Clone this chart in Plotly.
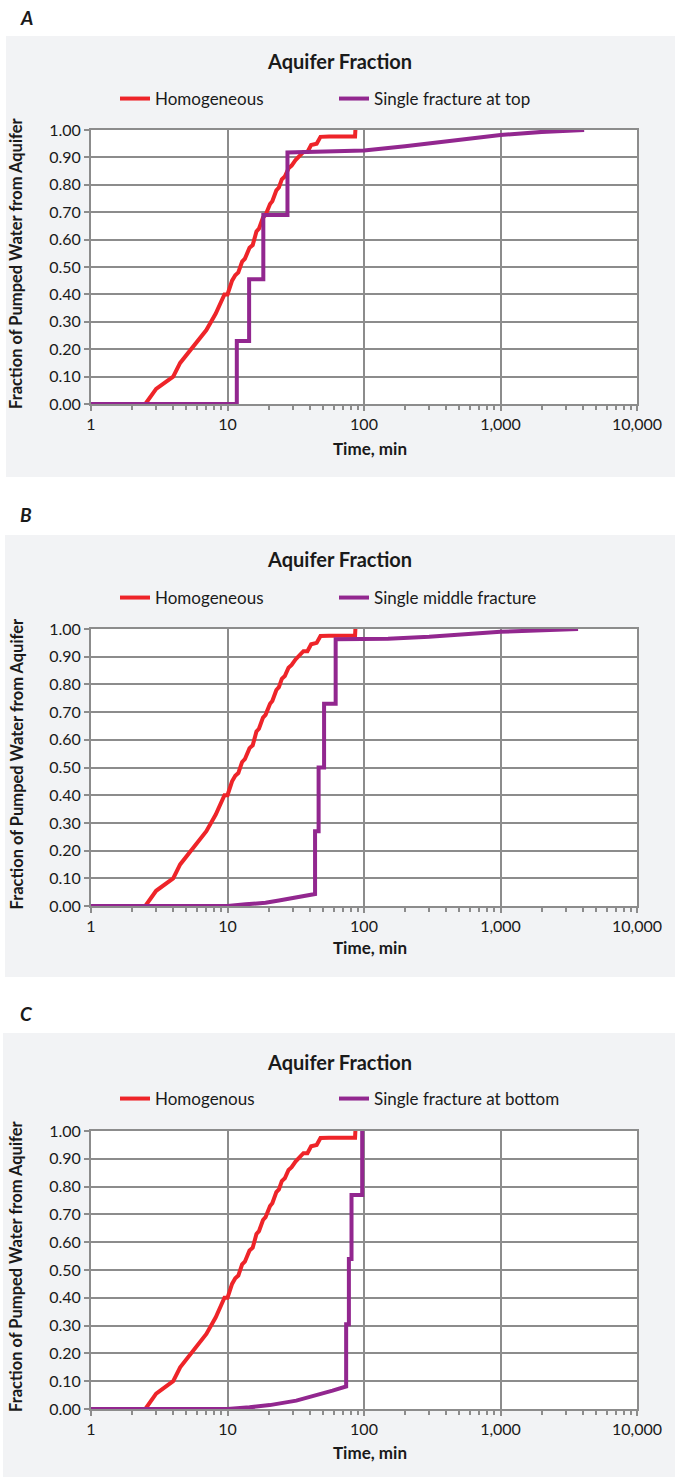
import plotly.graph_objects as go

# ---------------- data ----------------
time_homog = [1, 2.5, 3.0, 4.0, 4.5, 5.5, 7.0, 8.2, 9.2, 9.5, 10.0, 10.8, 11.4, 12.0, 12.8, 13.4,
              14.5, 15.3, 16.3, 17.0, 18.2, 19.0, 20.5, 21.3, 22.8, 23.8, 25.0, 26.3, 28.0, 29.5,
              31.5, 33.0, 36.0, 38.5, 41.0, 45.0, 48.0, 55.5, 86.0, 86.5]
frac_homog = [0, 0, 0.055, 0.10, 0.15, 0.205, 0.27, 0.33, 0.39, 0.40, 0.40, 0.45, 0.47, 0.48, 0.52, 0.53,
              0.57, 0.58, 0.63, 0.64, 0.68, 0.69, 0.73, 0.74, 0.78, 0.79, 0.82, 0.83, 0.86, 0.87,
              0.89, 0.90, 0.92, 0.92, 0.945, 0.95, 0.975, 0.976, 0.976, 1.0]

time_top = [1, 11.7, 11.7, 14.4, 14.4, 18.3, 18.3, 27.5, 27.5, 50, 100, 200, 400, 700, 1000, 2000, 4100]
frac_top = [0, 0, 0.23, 0.23, 0.455, 0.455, 0.69, 0.69, 0.918, 0.921, 0.925, 0.941, 0.958, 0.972, 0.982, 0.993, 1.0]

time_middle = [1, 10, 13.6, 19, 23.8, 31.6, 39.5, 43.8, 43.8, 46.5, 46.5, 51, 51, 62, 62, 100, 150, 300, 1000, 3700]
frac_middle = [0, 0, 0.006, 0.012, 0.02, 0.03, 0.04, 0.043, 0.27, 0.27, 0.50, 0.50, 0.73, 0.73, 0.963, 0.963,
               0.965, 0.972, 0.99, 1.0]

time_bottom = [1, 10, 14.5, 20.4, 31.9, 44.4, 58.8, 74, 74, 77.5, 77.5, 81, 81, 97, 97]
frac_bottom = [0, 0, 0.006, 0.014, 0.03, 0.048, 0.066, 0.081, 0.305, 0.305, 0.54, 0.54, 0.77, 0.77, 1.0]

panel_labels = ["A", "B", "C"]
homog_names = ["Homogeneous", "Homogeneous", "Homogenous"]
fracture_names = ["Single fracture at top", "Single middle fracture", "Single fracture at bottom"]
fracture_times = [time_top, time_middle, time_bottom]
fracture_fracs = [frac_top, frac_middle, frac_bottom]

chart_title = "Aquifer Fraction"
x_title = "Time, min"
y_title = "Fraction of Pumped Water from Aquifer"
x_tick_vals = [1, 10, 100, 1000, 10000]
x_tick_text = ["1", "10", "100", "1,000", "10,000"]
y_tick_vals = [0, 0.1, 0.2, 0.3, 0.4, 0.5, 0.6, 0.7, 0.8, 0.9, 1.0]
x_minor_vals = [m * d for d in (1, 10, 100, 1000) for m in range(2, 10)]

# ---------------- style / layout ----------------
W, H = 675, 1477
RED = "#EE2429"
PURPLE = "#92278F"
GRID = "#8C8C8C"
PANEL_BG = "#F2F3F5"
TXT = "#1A1A1A"
FONT = "Lato, 'Open Sans', sans-serif"

# pixel geometry of each panel
plot_left, plot_right = 91, 637
plot_tops = [130, 629, 1131]
plot_bottoms = [404, 906, 1409]
panel_box = [(6, 36, 675, 477), (5, 535, 675, 977), (3, 1033, 675, 1477)]
label_y = [18, 514, 1013]
title_y = [61, 559, 1062]
legend_y = [99, 598, 1099]
xtitle_y = [448, 947, 1452]


def px(x):
    return x / W


def py(y):
    return 1 - y / H


fig = go.Figure()
shapes = []
annotations = []

for i in range(3):
    sfx = "" if i == 0 else str(i + 1)
    xa, ya = "x" + sfx, "y" + sfx
    leg = "legend" + sfx

    fig.add_trace(go.Scatter(x=time_homog, y=frac_homog, mode="lines", name=homog_names[i],
                             line=dict(color=RED, width=4), xaxis=xa, yaxis=ya, legend=leg,
                             legendwidth=174))
    fig.add_trace(go.Scatter(x=fracture_times[i], y=fracture_fracs[i], mode="lines", name=fracture_names[i],
                             line=dict(color=PURPLE, width=4), xaxis=xa, yaxis=ya, legend=leg,
                             legendwidth=210))

    fig.layout["xaxis" + sfx] = dict(
        type="log", range=[0, 4], domain=[px(plot_left), px(plot_right)], anchor=ya,
        tickvals=x_tick_vals, ticktext=x_tick_text,
        showgrid=True, gridcolor=GRID, gridwidth=2,
        showline=True, linecolor=GRID, linewidth=2, mirror=True,
        ticks="outside", ticklen=5, tickwidth=2, tickcolor=GRID,
        minor=dict(tickvals=x_minor_vals, ticks="outside", ticklen=4, tickwidth=1.5,
                   tickcolor=GRID, showgrid=False),
        tickfont=dict(family=FONT, size=16, color=TXT), fixedrange=True, automargin=False,
    )
    fig.layout["yaxis" + sfx] = dict(
        range=[0, 1], domain=[py(plot_bottoms[i]), py(plot_tops[i])], anchor=xa,
        tickvals=y_tick_vals, tickformat=".2f",
        showgrid=True, gridcolor=GRID, gridwidth=2, zeroline=False,
        showline=True, linecolor=GRID, linewidth=2, mirror=True,
        ticks="outside", ticklen=5, tickwidth=2, tickcolor=GRID,
        tickfont=dict(family=FONT, size=16, color=TXT), fixedrange=True, automargin=False,
    )
    fig.layout[leg] = dict(
        orientation="h", x=px(115), xanchor="left", y=py(legend_y[i]), yanchor="middle",
        itemwidth=30, bgcolor="rgba(0,0,0,0)", font=dict(family=FONT, size=17, color=TXT),
        traceorder="normal",
    )

    x0, y0, x1, y1 = panel_box[i]
    shapes.append(dict(type="rect", xref="paper", yref="paper", x0=px(x0), x1=px(x1),
                       y0=py(y1), y1=py(y0), fillcolor=PANEL_BG, line=dict(width=0), layer="below"))
    shapes.append(dict(type="rect", xref=xa + " domain", yref=ya + " domain", x0=0, x1=1, y0=0, y1=1,
                       fillcolor="white", line=dict(width=0), layer="below"))

    annotations.append(dict(text="<b><i>%s</i></b>" % panel_labels[i], xref="paper", yref="paper",
                            x=px(18), y=py(label_y[i]), xanchor="left", yanchor="middle",
                            showarrow=False, font=dict(family=FONT, size=19, color=TXT)))
    annotations.append(dict(text="<b>%s</b>" % chart_title, xref="paper", yref="paper",
                            x=px(340), y=py(title_y[i]), xanchor="center", yanchor="middle",
                            showarrow=False, font=dict(family=FONT, size=20, color=TXT)))
    annotations.append(dict(text="<b>%s</b>" % x_title, xref="paper", yref="paper",
                            x=px(370), y=py(xtitle_y[i]), xanchor="center", yanchor="middle",
                            showarrow=False, font=dict(family=FONT, size=17, color=TXT)))
    annotations.append(dict(text="<b>%s</b>" % y_title, xref="paper", yref="paper", textangle=-90,
                            x=px(16), y=py((plot_tops[i] + plot_bottoms[i]) / 2 - 4),
                            xanchor="center", yanchor="middle",
                            showarrow=False, font=dict(family=FONT, size=16.5, color=TXT)))

fig.update_layout(
    width=W, height=H, margin=dict(l=0, r=0, t=0, b=0, pad=0, autoexpand=False),
    paper_bgcolor="white", plot_bgcolor="white",
    shapes=shapes, annotations=annotations,
    font=dict(family=FONT, color=TXT), showlegend=True,
)

fig.write_html("out.html", config={"displayModeBar": False},
               post_script="document.body.style.margin='0';document.body.style.overflow='hidden';")
